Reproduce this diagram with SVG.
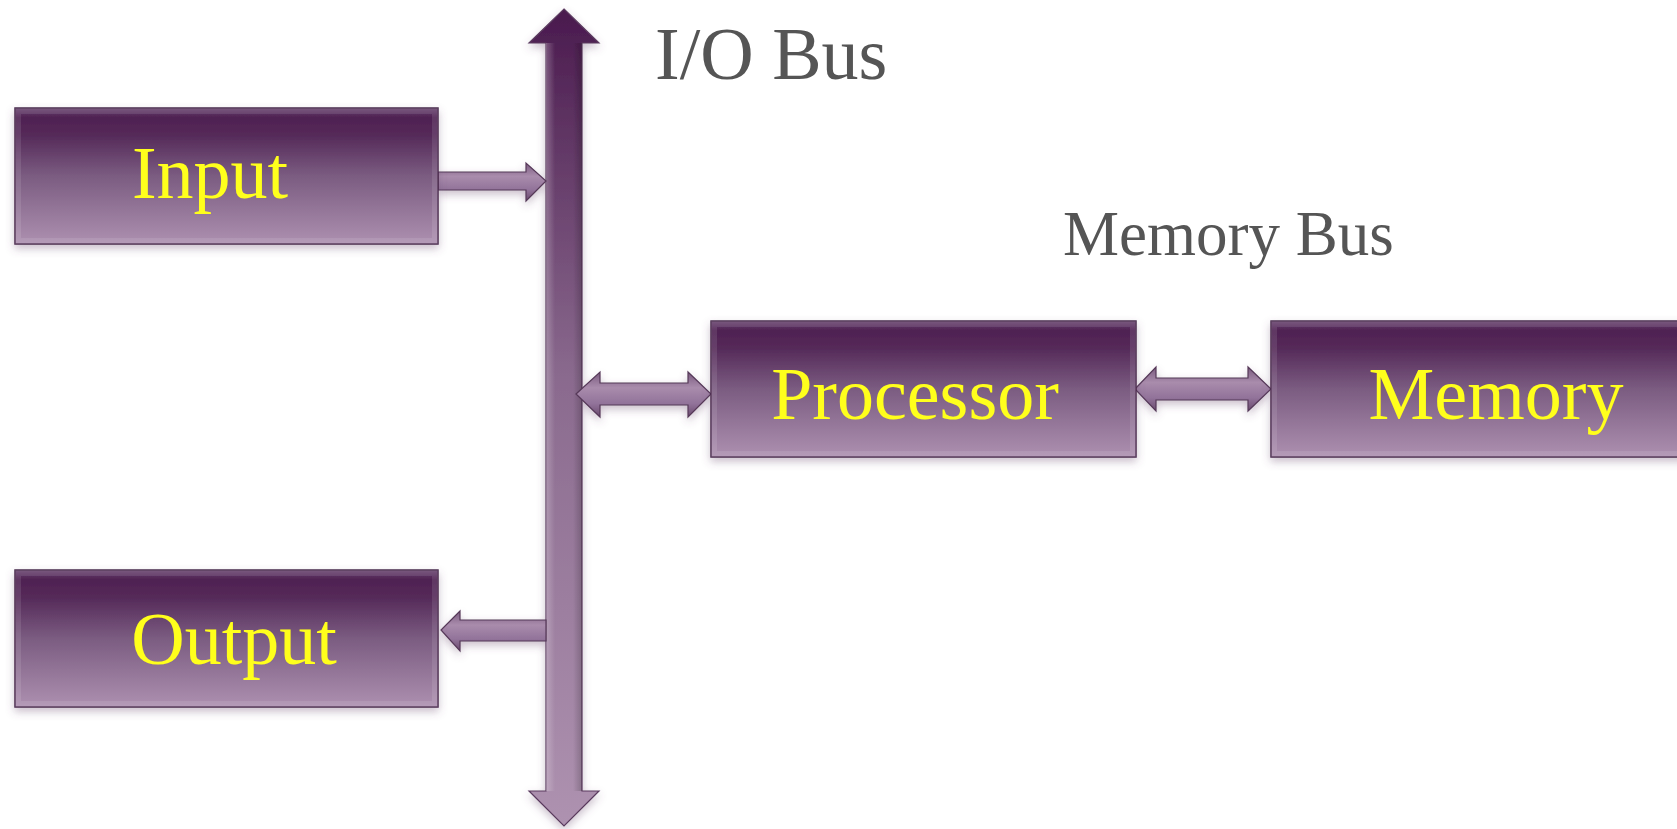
<svg xmlns="http://www.w3.org/2000/svg" width="1677" height="829" viewBox="0 0 1677 829">
  <defs>
    <!-- box fill: deep plum at the top fading to lilac -->
    <linearGradient id="boxFill" x1="0" y1="0" x2="0" y2="1">
      <stop offset="0" stop-color="#6a4570"/>
      <stop offset="0.07" stop-color="#4f2152"/>
      <stop offset="0.2" stop-color="#552a59"/>
      <stop offset="0.5" stop-color="#7b5c81"/>
      <stop offset="1" stop-color="#ad90b0"/>
    </linearGradient>
    <!-- bus shaft: dark at the top, light at the bottom -->
    <linearGradient id="busFill" x1="0" y1="0" x2="0" y2="1">
      <stop offset="0" stop-color="#4a1a4e"/>
      <stop offset="0.45" stop-color="#8a6a8e"/>
      <stop offset="1" stop-color="#ae92b0"/>
    </linearGradient>
    <!-- bevel across the bus width -->
    <linearGradient id="busBevel" x1="0" y1="0" x2="1" y2="0">
      <stop offset="0" stop-color="#ffffff" stop-opacity="0.25"/>
      <stop offset="0.25" stop-color="#ffffff" stop-opacity="0"/>
      <stop offset="0.75" stop-color="#000000" stop-opacity="0"/>
      <stop offset="1" stop-color="#000000" stop-opacity="0.2"/>
    </linearGradient>
    <!-- small connector arrows -->
    <linearGradient id="arrowFill" x1="0" y1="0" x2="0" y2="1">
      <stop offset="0" stop-color="#7a5a7f"/>
      <stop offset="0.35" stop-color="#a98cac"/>
      <stop offset="0.7" stop-color="#92739a"/>
      <stop offset="1" stop-color="#6a4a6e"/>
    </linearGradient>
    <filter id="shadow" x="-10%" y="-20%" width="120%" height="150%">
      <feGaussianBlur in="SourceAlpha" stdDeviation="4"/>
      <feOffset dx="0" dy="4" result="b"/>
      <feFlood flood-color="#6a4a6e" flood-opacity="0.35"/>
      <feComposite in2="b" operator="in"/>
      <feMerge>
        <feMergeNode/>
        <feMergeNode in="SourceGraphic"/>
      </feMerge>
    </filter>
  </defs>
  <style>
    .box { fill: url(#boxFill); stroke: #4a2a4e; stroke-width: 1.5; }
    .bevel { fill: none; stroke: #ffffff; stroke-opacity: 0.1; stroke-width: 6; }
    .label { font-family: "Liberation Serif", "Times New Roman", serif; font-size: 74px; fill: #ffff1a; text-anchor: middle; }
    .bus-label { font-family: "Liberation Serif", "Times New Roman", serif; fill: #555555; }
    .arrow { fill: url(#arrowFill); stroke: #553858; stroke-width: 1.2; }
    .bus { fill: url(#busFill); stroke: #5a3a5e; stroke-width: 1.2; }
  </style>

  <rect width="1677" height="829" fill="#ffffff"/>

  <!-- connectors: the I/O bus and the small arrows -->
  <g id="connectors" filter="url(#shadow)">
    <g id="io-bus">
      <path class="bus" d="M564,9 L599,43 L582,43 L582,791 L599,791 L564,826 L529,791 L546,791 L546,43 L529,43 Z"/>
      <rect x="546" y="43" width="36" height="748" fill="url(#busBevel)"/>
    </g>
    <!-- Input to bus -->
    <path class="arrow" d="M438,172 L526,172 L526,163 L546,181 L526,201 L526,190 L438,190 Z"/>
    <!-- bus to Output -->
    <path class="arrow" d="M546,620 L460,620 L460,611 L441,630 L460,651 L460,641 L546,641 Z"/>
    <!-- bus to Processor -->
    <path class="arrow" d="M576,394 L600,372 L600,383 L688,383 L688,372 L711,394 L688,417 L688,405 L600,405 L600,417 Z"/>
    <!-- Processor to Memory -->
    <path class="arrow" d="M1135,389 L1156,367 L1156,378 L1248,378 L1248,367 L1271,389 L1248,411 L1248,400 L1156,400 L1156,411 Z"/>
  </g>

  <g id="input" filter="url(#shadow)">
    <rect class="box" x="15" y="108" width="423" height="136"/>
    <rect class="bevel" x="18" y="111" width="417" height="130"/>
    <text class="label" x="210" y="198">Input</text>
  </g>

  <g id="output" filter="url(#shadow)">
    <rect class="box" x="15" y="570" width="423" height="137"/>
    <rect class="bevel" x="18" y="573" width="417" height="131"/>
    <text class="label" x="234" y="664">Output</text>
  </g>

  <g id="processor" filter="url(#shadow)">
    <rect class="box" x="711" y="321" width="425" height="136"/>
    <rect class="bevel" x="714" y="324" width="419" height="130"/>
    <text class="label" x="915" y="419">Processor</text>
  </g>

  <g id="memory" filter="url(#shadow)">
    <rect class="box" x="1271" y="321" width="420" height="136"/>
    <rect class="bevel" x="1274" y="324" width="414" height="130"/>
    <text class="label" x="1496" y="419">Memory</text>
  </g>

  <text class="bus-label" x="655" y="79" font-size="74">I/O Bus</text>
  <text class="bus-label" x="1063" y="255" font-size="63">Memory Bus</text>
</svg>
